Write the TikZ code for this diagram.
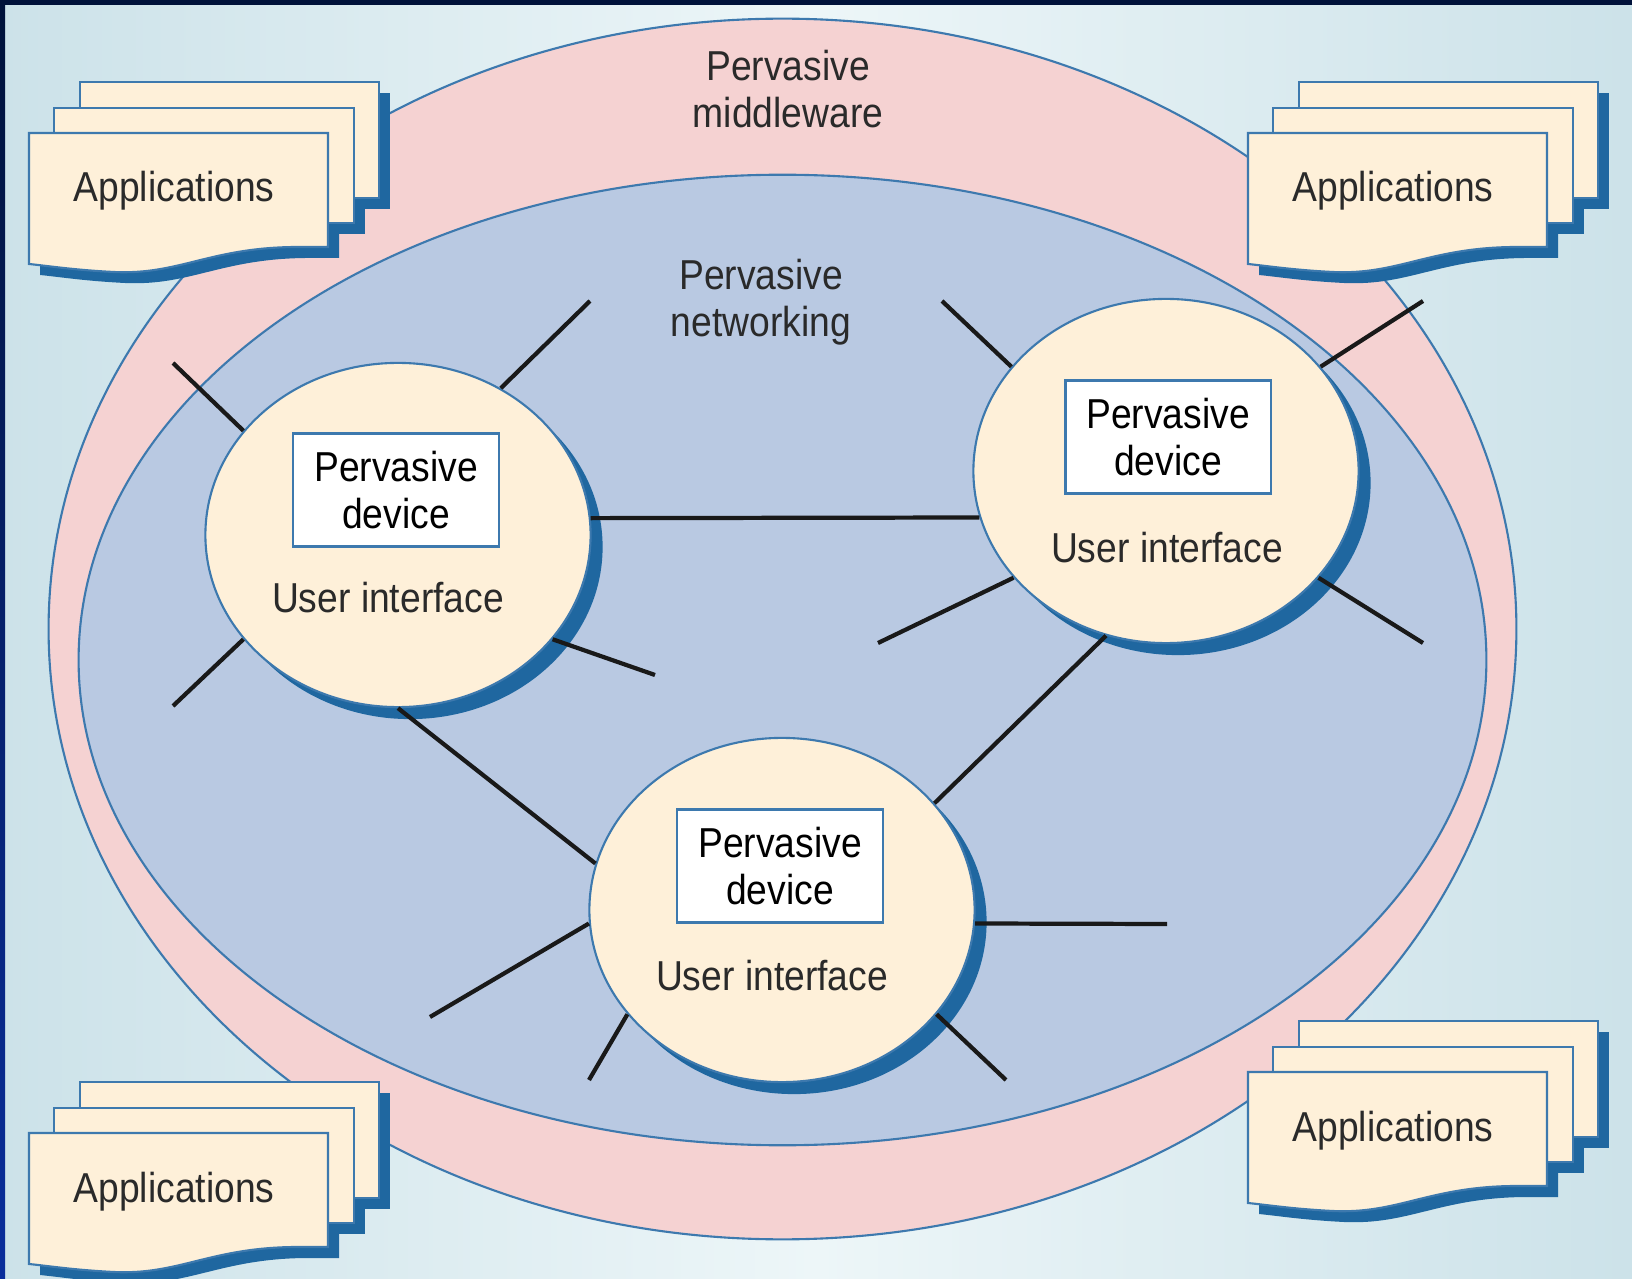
\documentclass[tikz,border=0pt]{standalone}
\usepackage{fontspec}
\setmainfont{Liberation Sans}[FakeStretch=0.89]
\usetikzlibrary{shapes.geometric,shadows}

\definecolor{bgside}{HTML}{CCE2E9}
\definecolor{bgmid}{HTML}{EDF6F8}
\definecolor{navy}{HTML}{00123A}
\definecolor{navyblue}{HTML}{0A2E9C}
\definecolor{midpink}{HTML}{F5D2D2}
\definecolor{netblue}{HTML}{B9C9E2}
\definecolor{cream}{HTML}{FEF0D9}
\definecolor{shadeblue}{HTML}{1F67A0}
\definecolor{rimblue}{HTML}{3D79AE}
\definecolor{inkgray}{HTML}{2A2A2A}

\tikzset{
  rim/.style={draw=rimblue, line width=0.6pt},
  device/.style={ellipse, rim, fill=cream, inner sep=0pt,
    minimum width=3.85cm, minimum height=3.44cm,
    general shadow={fill=shadeblue, shadow xshift=0.12cm, shadow yshift=-0.12cm}},
  devbox/.style={rectangle, rim, fill=white, text=black, inner sep=0pt,
    minimum width=2.05cm, minimum height=1.13cm},
  link/.style={draw=black!90, line width=1.2pt},
  sheet/.style={rim, fill=cream},
  sheetshadow/.style={fill=shadeblue}
}

% front sheet of a stack, with its wavy lower edge
\newcommand\frontsheet{(0,0) -- (299,0) -- (299,114) -- (265,114)
  .. controls (180,115) and (150,142) .. (85,139)
  .. controls (45,137) and (20,133) .. (0,131) -- cycle}

% stack of three sheets: name, left, top of the front sheet
\newcommand\appstack[3]{%
  \begin{scope}[shift={(#2,#3)}]
    \begin{scope}[shift={(11,11)}]
      \fill[sheetshadow] (51,-51) rectangle (350,65);
      \fill[sheetshadow] (25,-25) rectangle (325,90);
      \fill[sheetshadow] \frontsheet;
    \end{scope}
    \filldraw[sheet] (51,-51) rectangle (350,65);
    \filldraw[sheet] (25,-25) rectangle (325,90);
    \filldraw[sheet] \frontsheet;
    \node[anchor=base] (#1) at (145,69) {Applications};
  \end{scope}}

\begin{document}
\begin{tikzpicture}[x=0.01cm, y=-0.01cm,
  every node/.style={text=inkgray, align=center,
    font=\fontsize{11.9}{13.4}\selectfont}]
  \useasboundingbox (0,0) rectangle (1632,1279);
  % backdrop
  \shade[left color=bgside, right color=bgside, middle color=bgmid]
    (0,0) rectangle (1632,1279);
  \fill[navy] (0,0) rectangle (1632,5);
  \fill[top color=navy, bottom color=navyblue] (0,0) rectangle (5,1279);

  % middleware and networking
  \draw[rim, fill=midpink] (782.5,629) ellipse [x radius=7.335cm, y radius=6.10cm];
  \draw[rim, fill=netblue] (782.5,660) ellipse [x radius=7.035cm, y radius=4.85cm];
  \node (mw) at (788,89) {Pervasive\\middleware};
  \node (net) at (761,302) {Pervasive\\networking};

  % applications
  \appstack{appTL}{29}{133}
  \appstack{appTR}{1248}{133}
  \appstack{appBL}{29}{1133}
  \appstack{appBR}{1248}{1072}

  % devices
  \node[device] (d1) at (398,535) {};
  \node[device] (d2) at (1166,471) {};
  \node[device] (d3) at (782,910) {};
  \node[devbox] (box1) at (396,490) {Pervasive\\device};
  \node[devbox] (box2) at (1168,437) {Pervasive\\device};
  \node[devbox] (box3) at (780,866) {Pervasive\\device};
  \node (ui1) at (388,598) {User interface};
  \node (ui2) at (1167,548) {User interface};
  \node (ui3) at (772,976) {User interface};

  % links
  \draw[link] (d1.5) -- (d2.194);
  \draw[link] (d1.270) -- (d3.166);
  \draw[link] (d2.250) -- (d3.35);
  \foreach \dev/\ang/\px/\py [count=\i] in {
      d1/146/173/363, d1/55/590/301, d1/214/173/706, d1/326/655/675,
      d2/146/942/301, d2/34/1423/301, d2/215/878/643, d2/325/1423/643,
      d3/184/430/1017, d3/214/589/1080, d3/326/1006/1080, d3/356/1167/924} {
    \coordinate (end\i) at (\px,\py);
    \draw[link] (\dev.\ang) -- (end\i);
  }
\end{tikzpicture}
\end{document}
